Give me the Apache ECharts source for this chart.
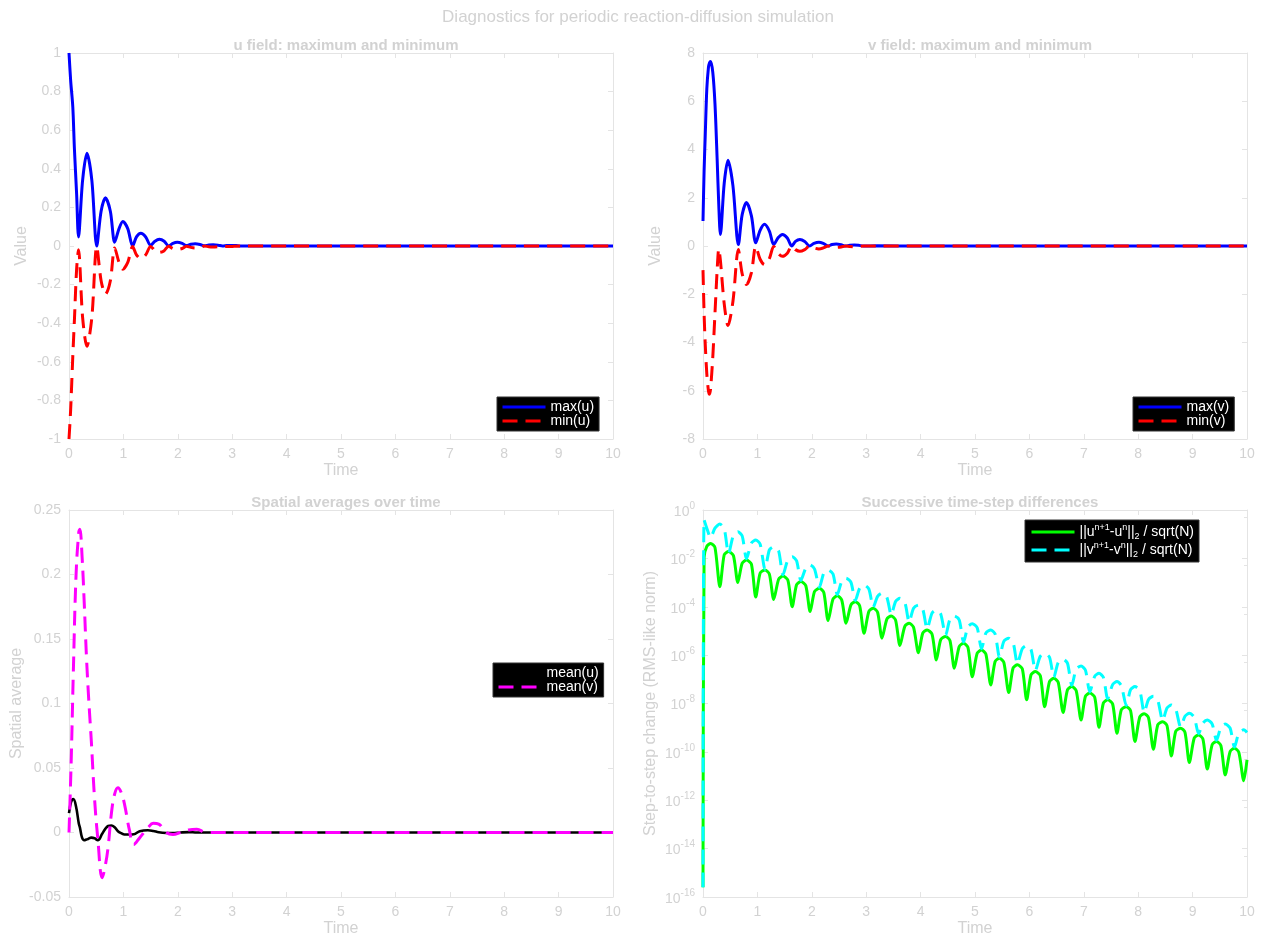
<!DOCTYPE html>
<html><head><meta charset="utf-8">
<script src="https://cdn.jsdelivr.net/npm/echarts@6/dist/echarts.min.js"></script>
<style>html,body{margin:0;padding:0;background:#fff}#c{width:1266px;height:939px}</style>
</head><body><div id="c"></div>
<script>
// ---------- data ----------
const uTime = [0, 0.03, 0.07, 0.10, 0.14, 0.175,
  0.25, 0.33, 0.42, 0.51, 0.59, 0.67, 0.76, 0.84, 0.92, 0.99, 1.08, 1.17,
  1.24, 1.32, 1.41, 1.50, 1.58, 1.66, 1.75, 1.83, 1.91, 1.99, 2.08, 2.16,
  2.24, 2.32, 2.41, 2.49, 2.57, 2.65, 2.74, 2.82, 2.90, 2.98, 3.07, 3.15,
  4, 6, 8, 10];
const uMax = [1.0, 0.86, 0.72, 0.50, 0.27, 0.047,
  0.34, 0.48, 0.34, 0.0, 0.18, 0.25, 0.18, 0.02, 0.09, 0.127, 0.09, 0.0,
  0.047, 0.066, 0.047, 0.004, 0.025, 0.035, 0.025, 0.0, 0.014, 0.02, 0.014, 0.002,
  0.009, 0.012, 0.008, 0.001, 0.005, 0.006, 0.004, 0.0, 0.002, 0.003, 0.002, 0.0,
  0, 0, 0, 0];
const uMin = [-1.0, -0.85, -0.57, -0.38, -0.12, -0.02,
  -0.37, -0.52, -0.37, -0.003, -0.18, -0.25, -0.18, -0.01, -0.085, -0.12, -0.085, -0.003,
  -0.046, -0.065, -0.046, -0.002, -0.024, -0.033, -0.024, -0.001, -0.013, -0.018, -0.013, -0.001,
  -0.007, -0.01, -0.007, 0, -0.004, -0.005, -0.003, 0, -0.002, -0.003, -0.001, 0,
  0, 0, 0, 0];

const vTime = [0, 0.02, 0.04, 0.07, 0.10, 0.12, 0.14, 0.18, 0.22, 0.26, 0.29, 0.32,
  0.39, 0.46, 0.55, 0.65, 0.72, 0.80, 0.89, 0.97, 1.05, 1.13, 1.22, 1.30,
  1.38, 1.46, 1.55, 1.63, 1.70, 1.78, 1.87, 1.96, 2.04, 2.13, 2.21, 2.30,
  2.37, 2.45, 2.54, 2.62, 2.70, 2.78, 2.86, 2.95, 3.2, 4, 6, 8, 10];
const vMax = [1.04, 3.1, 4.5, 6.5, 7.4, 7.6, 7.65, 7.2, 5.9, 3.6, 1.7, 0.48,
  2.6, 3.55, 2.5, 0.06, 1.3, 1.8, 1.25, 0.13, 0.65, 0.9, 0.62, 0.06,
  0.34, 0.48, 0.33, 0.0, 0.19, 0.27, 0.19, 0.0, 0.11, 0.16, 0.11, 0.0,
  0.06, 0.08, 0.05, 0.0, 0.03, 0.04, 0.03, 0.0, 0.01, 0, 0, 0, 0];
const vMin = [-1.0, -2.8, -4.0, -5.3, -6.0, -6.15, -5.9, -4.6, -2.8, -1.0, -0.12, -0.6,
  -2.4, -3.3, -2.3, -0.15, -1.15, -1.6, -1.1, -0.02, -0.55, -0.77, -0.52, -0.02,
  -0.3, -0.43, -0.3, 0, -0.15, -0.22, -0.15, 0, -0.08, -0.12, -0.08, 0,
  -0.04, -0.06, -0.04, 0, -0.02, -0.03, -0.02, 0, 0, 0, 0, 0, 0];

const meanTime = [0, 0.04, 0.08, 0.13, 0.18, 0.20, 0.24, 0.28, 0.32, 0.36, 0.41, 0.47,
  0.53, 0.61, 0.67, 0.72, 0.78, 0.84, 0.90, 0.96, 1.02, 1.11, 1.19, 1.30,
  1.45, 1.55, 1.65, 1.79, 1.91, 2.05, 2.20, 2.35, 2.52, 2.8, 3.5, 5, 7.5, 10];
const meanU = [0.015, 0.024, 0.026, 0.02, 0.007, 0.004, -0.004, -0.006, -0.0055, -0.0048, -0.004, -0.0045,
  -0.006, -0.001, 0.003, 0.005, 0.0054, 0.004, 0.001, -0.0005, -0.0015, -0.0016, -0.0014, 0.001,
  0.0018, 0.0012, 0.0002, -0.0004, -0.0005, 0, 0.0003, 0, 0, 0, 0, 0, 0, 0];
const meanV = [0, 0.055, 0.125, 0.2, 0.233, 0.235, 0.214, 0.178, 0.137, 0.105, 0.071, 0.026,
  -0.005, -0.035, -0.025, -0.011, 0.015, 0.03, 0.0347, 0.031, 0.022, 0.002, -0.0093, -0.004,
  0.0036, 0.0072, 0.0065, 0, -0.0015, 0, 0.002, 0.0025, 0, 0, 0, 0, 0, 0];

// step-to-step differences: time and decade exponent (log10 of the value)
const diffTime = [0, 0.02, 0.07, 0.14, 0.22,
  0.31, 0.39, 0.47, 0.56, 0.64, 0.72, 0.80, 0.89, 0.97, 1.05, 1.14, 1.22,
  1.30, 1.39, 1.47, 1.56, 1.64, 1.72, 1.80, 1.89, 1.97, 2.05, 2.14, 2.22,
  2.30, 2.39, 2.47, 2.55, 2.63, 2.72, 2.80, 2.88, 2.96, 3.05, 3.13, 3.21,
  3.29, 3.38, 3.46, 3.54, 3.62, 3.71, 3.79, 3.87, 3.96, 4.04, 4.12, 4.21,
  4.29, 4.37, 4.46, 4.54, 4.62, 4.71, 4.79, 4.87, 4.95, 5.04, 5.12, 5.20,
  5.29, 5.37, 5.45, 5.53, 5.62, 5.70, 5.78, 5.87, 5.95, 6.03, 6.11, 6.20,
  6.28, 6.37, 6.45, 6.53, 6.62, 6.70, 6.78, 6.86, 6.95, 7.03, 7.11, 7.20,
  7.28, 7.36, 7.44, 7.53, 7.61, 7.69, 7.78, 7.86, 7.94, 8.03, 8.11, 8.19,
  8.28, 8.36, 8.45, 8.53, 8.61, 8.69, 8.78, 8.86, 8.94, 9.03, 9.11, 9.19,
  9.27, 9.36, 9.44, 9.52, 9.60, 9.69, 9.77, 9.85, 9.94, 10.0];
const diffUExp = [-15.6, -1.95, -1.50, -1.38, -1.55,
  -3.17, -1.85, -1.72, -1.89, -3.00, -2.20, -2.07, -2.24, -3.60, -2.61, -2.48, -2.65,
  -3.70, -2.86, -2.73, -2.90, -4.00, -3.09, -2.96, -3.13, -4.20, -3.37, -3.24, -3.41,
  -4.57, -3.68, -3.55, -3.72, -4.68, -3.92, -3.79, -3.96, -5.10, -4.19, -4.06, -4.23,
  -5.30, -4.51, -4.38, -4.55, -5.60, -4.81, -4.68, -4.85, -5.90, -5.09, -4.96, -5.13,
  -6.20, -5.36, -5.23, -5.40, -6.54, -5.64, -5.51, -5.68, -6.89, -5.92, -5.79, -5.96,
  -7.23, -6.26, -6.13, -6.30, -7.55, -6.53, -6.40, -6.57, -7.85, -6.81, -6.68, -6.85,
  -8.13, -7.09, -6.96, -7.13, -8.37, -7.43, -7.30, -7.47, -8.68, -7.70, -7.57, -7.74,
  -8.98, -7.98, -7.85, -8.02, -9.23, -8.26, -8.13, -8.30, -9.57, -8.55, -8.42, -8.59,
  -9.89, -8.88, -8.75, -8.92, -10.17, -9.15, -9.02, -9.19, -10.44, -9.43, -9.30, -9.47,
  -10.71, -9.70, -9.57, -9.74, -10.95, -9.98, -9.85, -10.02, -11.19, -10.33];
const diffVExp = [-15.6, -0.41, -0.75, -1.15, -0.75,
  -0.58, -0.77, -1.80, -1.03, -0.90, -1.07, -2.02, -1.37, -1.24, -1.41, -2.45, -1.65,
  -1.52, -1.69, -2.68, -2.06, -1.93, -2.10, -2.91, -2.40, -2.27, -2.44, -3.19, -2.61,
  -2.48, -2.65, -3.50, -2.95, -2.82, -2.99, -3.74, -3.23, -3.10, -3.27, -4.01, -3.57,
  -3.44, -3.61, -4.33, -3.78, -3.65, -3.82, -4.63, -4.06, -3.93, -4.10, -4.91, -4.26,
  -4.13, -4.30, -5.18, -4.51, -4.38, -4.55, -5.46, -4.83, -4.70, -4.87, -5.74, -5.09,
  -4.96, -5.13, -6.08, -5.43, -5.30, -5.47, -6.35, -5.73, -5.60, -5.77, -6.63, -6.05,
  -5.92, -6.09, -6.91, -6.30, -6.17, -6.34, -7.25, -6.58, -6.45, -6.62, -7.52, -6.88,
  -6.75, -6.92, -7.80, -7.22, -7.09, -7.26, -8.08, -7.43, -7.30, -7.47, -8.37, -7.83,
  -7.70, -7.87, -8.70, -8.19, -8.06, -8.23, -8.97, -8.53, -8.40, -8.57, -9.25, -8.81,
  -8.68, -8.85, -9.52, -8.98, -8.85, -9.02, -9.80, -9.22, -9.09, -9.20];

// axis ranges [min, max, interval]
const timeAxis = [0, 10, 1];
const uAxis = [-1, 1, 0.2];
const vAxis = [-8, 8, 2];
const meanAxis = [-0.05, 0.25, 0.05];
const diffAxis = [1e-16, 1, 2];   // log axis, interval in decades

// ---------- chart ----------
const TXT = '#d2d2d2', AX = '#e4e4e4', F = '"Liberation Sans", Arial, Helvetica, sans-serif';
const grids = [
  {left: 69, top: 53, width: 544, height: 386},
  {left: 703, top: 53, width: 544, height: 386},
  {left: 69, top: 510, width: 544, height: 387},
  {left: 703, top: 510, width: 544, height: 387}
];
const pair = (t, v) => t.map((x, i) => [x, v[i]]);
const pairLog = (t, e) => t.map((x, i) => [x, Math.pow(10, e[i])]);

const xAxes = [], yAxes = [];
function addX(gi, show) {
  xAxes.push({
    type: 'value', gridIndex: gi, min: timeAxis[0], max: timeAxis[1], interval: timeAxis[2],
    position: show ? 'bottom' : 'top',
    axisLine: {show: true, onZero: false, lineStyle: {color: AX, width: 1}},
    axisTick: {show: true, inside: true, length: 5, lineStyle: {color: AX}},
    axisLabel: {show: show, color: TXT, fontSize: 14, margin: 8, fontFamily: F},
    splitLine: {show: false},
    name: show ? 'Time' : '', nameLocation: 'middle', nameGap: 24,
    nameTextStyle: {color: TXT, fontSize: 16, fontFamily: F}
  });
}
function addY(gi, rng, name, gap, show) {
  yAxes.push({
    type: 'value', gridIndex: gi, min: rng[0], max: rng[1], interval: rng[2],
    position: show ? 'left' : 'right',
    axisLine: {show: true, onZero: false, lineStyle: {color: AX, width: 1}},
    axisTick: {show: true, inside: true, length: 5, lineStyle: {color: AX}},
    axisLabel: {show: show, color: TXT, fontSize: 14, margin: 8, fontFamily: F},
    splitLine: {show: false},
    name: show ? name : '', nameLocation: 'middle', nameGap: gap,
    nameTextStyle: {color: TXT, fontSize: 16, fontFamily: F}
  });
}
function addLogY(gi, name, gap, show) {
  yAxes.push({
    type: 'log', logBase: 10, gridIndex: gi, min: diffAxis[0], max: diffAxis[1], interval: diffAxis[2],
    position: show ? 'left' : 'right',
    axisLine: {show: true, onZero: false, lineStyle: {color: AX, width: 1}},
    axisTick: {show: true, inside: true, length: 5, lineStyle: {color: AX}},
    minorTick: {show: !show, splitNumber: 2, length: 3, lineStyle: {color: AX}},
    axisLabel: {show: show, color: TXT, fontSize: 14, margin: 8, fontFamily: F,
      formatter: v => '{b|10}{e|' + Math.round(Math.log10(v)) + '}',
      rich: {b: {fontSize: 14, color: TXT, fontFamily: F, lineHeight: 18, verticalAlign: 'bottom'},
             e: {fontSize: 10, color: TXT, fontFamily: F, lineHeight: 10, verticalAlign: 'top'}}},
    splitLine: {show: false},
    name: show ? name : '', nameLocation: 'middle', nameGap: gap,
    nameTextStyle: {color: TXT, fontSize: 16, fontFamily: F}
  });
}
for (let g = 0; g < 4; g++) { addX(g, true); addX(g, false); }
addY(0, uAxis, 'Value', 39, true); addY(0, uAxis, '', 0, false);
addY(1, vAxis, 'Value', 39, true); addY(1, vAxis, '', 0, false);
addY(2, meanAxis, 'Spatial average', 44, true); addY(2, meanAxis, '', 0, false);
addLogY(3, 'Step-to-step change (RMS-like norm)', 44, true); addLogY(3, '', 0, false);

function line(name, gi, data, color, dashed, width, smooth) {
  return {
    type: 'line', name: name, xAxisIndex: gi * 2, yAxisIndex: gi * 2, data: data,
    symbol: 'none', smooth: smooth, silent: true, clip: true,
    lineStyle: {color: color, width: width, type: dashed ? [15, 8] : 'solid'},
    itemStyle: {color: color}
  };
}
const series = [
  line('max(u)', 0, pair(uTime, uMax), '#0000ff', false, 3, 0.3),
  line('min(u)', 0, pair(uTime, uMin), '#ff0000', true, 3, 0.3),
  line('max(v)', 1, pair(vTime, vMax), '#0000ff', false, 3, 0.3),
  line('min(v)', 1, pair(vTime, vMin), '#ff0000', true, 3, 0.3),
  line('mean(u)', 2, pair(meanTime, meanU), '#000000', false, 2.6, 0.4),
  line('mean(v)', 2, pair(meanTime, meanV), '#ff00ff', true, 3, 0.4),
  line('du', 3, pairLog(diffTime, diffUExp), '#00ff00', false, 3, 0.25),
  line('dv', 3, pairLog(diffTime, diffVExp), '#00ffff', true, 3, 0.25)
];

function legend(left, top, names, extra) {
  return Object.assign({
    left: left, top: top, orient: 'vertical', backgroundColor: '#000', borderColor: '#333', borderWidth: 1,
    padding: [3, 5, 3, 4], itemGap: 0, itemWidth: 43, itemHeight: 14, selectedMode: false,
    itemStyle: {opacity: 0, borderWidth: 0},
    lineStyle: {width: 3},
    textStyle: {color: '#fff', fontSize: 14, fontFamily: F, lineHeight: 14},
    data: names
  }, extra || {});
}
const supRich = {
  sup: {fontSize: 9, color: '#fff', fontFamily: F, lineHeight: 9, verticalAlign: 'top'},
  sub: {fontSize: 9, color: '#fff', fontFamily: F, lineHeight: 9, verticalAlign: 'bottom'}
};

const option = {
  animation: false,
  backgroundColor: '#ffffff',
  title: [
    {text: 'Diagnostics for periodic reaction-diffusion simulation', left: 633, top: 4, textAlign: 'center',
     textStyle: {color: TXT, fontSize: 17, fontWeight: 'normal', fontFamily: F}},
    {text: 'u field: maximum and minimum', left: 341, top: 33, textAlign: 'center',
     textStyle: {color: TXT, fontSize: 15, fontWeight: 'bold', fontFamily: F}},
    {text: 'v field: maximum and minimum', left: 975, top: 33, textAlign: 'center',
     textStyle: {color: TXT, fontSize: 15, fontWeight: 'bold', fontFamily: F}},
    {text: 'Spatial averages over time', left: 341, top: 490, textAlign: 'center',
     textStyle: {color: TXT, fontSize: 15, fontWeight: 'bold', fontFamily: F}},
    {text: 'Successive time-step differences', left: 975, top: 490, textAlign: 'center',
     textStyle: {color: TXT, fontSize: 15, fontWeight: 'bold', fontFamily: F}}
  ],
  grid: grids,
  xAxis: xAxes,
  yAxis: yAxes,
  legend: [
    legend(497, 397, ['max(u)', 'min(u)']),
    legend(1133, 397, ['max(v)', 'min(v)']),
    legend(493, 663, ['mean(u)', 'mean(v)']),
    legend(1025, 520, ['du', 'dv'], {
      padding: [3, 5, 3, 5], itemWidth: 43, itemHeight: 18,
      formatter: n => n === 'du' ? '||u{sup|n+1}-u{sup|n}||{sub|2} / sqrt(N)' : '||v{sup|n+1}-v{sup|n}||{sub|2} / sqrt(N)',
      textStyle: {color: '#fff', fontSize: 14, fontFamily: F, lineHeight: 18, rich: supRich}
    })
  ],
  series: series
};
const chart = echarts.init(document.getElementById('c'), null, {renderer: 'canvas'});
chart.setOption(option);
</script></body></html>
